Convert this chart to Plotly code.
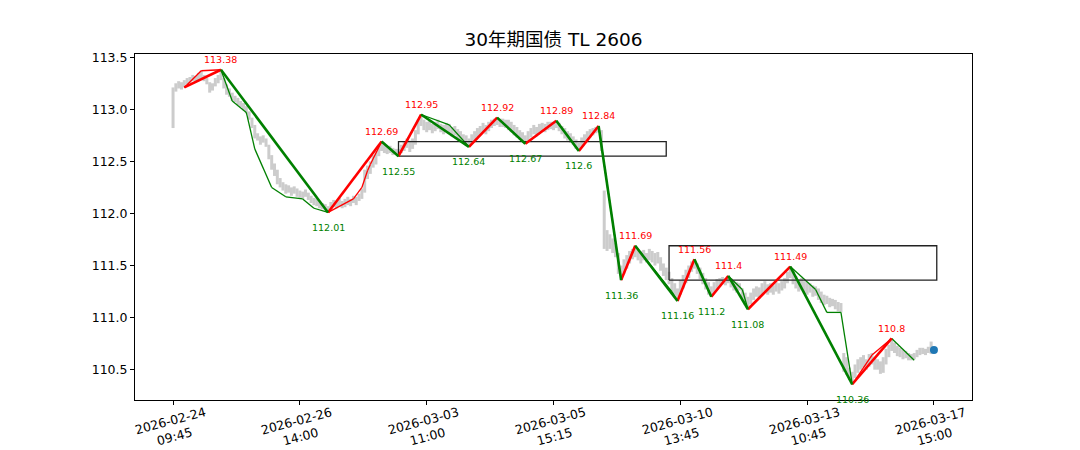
import plotly.graph_objects as go

# ---------------- data ----------------
title_text = "30年期国债 TL 2606"

# gray price bars (15-min), index 0..270
bar_low = [
    112.82, 113.17, 113.20, 113.19, 113.21, 113.24, 113.25, 113.27, 113.26, 113.28, 113.30, 113.27, 113.24, 113.16, 113.18, 113.22, 113.25,
    113.28, 113.20, 113.14, 113.12, 113.08, 113.07, 113.04, 113.02, 112.99, 112.96, 112.90, 112.82, 112.72, 112.70, 112.66, 112.68, 112.64,
    112.52, 112.42, 112.36, 112.28, 112.25, 112.22, 112.19, 112.20, 112.17, 112.19, 112.16, 112.15, 112.14, 112.16, 112.13, 112.10, 112.08,
    112.07, 112.05, 112.04, 112.03, 112.01, 112.04, 112.06, 112.05, 112.07, 112.05, 112.06, 112.08, 112.07, 112.10, 112.08, 112.12, 112.14,
    112.20, 112.33, 112.38, 112.44, 112.47, 112.55, 112.60, 112.58, 112.57, 112.58, 112.56, 112.57, 112.55, 112.58, 112.60, 112.63, 112.59,
    112.62, 112.66, 112.76, 112.84, 112.80, 112.78, 112.80, 112.77, 112.79, 112.81, 112.78, 112.76, 112.79, 112.77, 112.74, 112.75, 112.72,
    112.70, 112.68, 112.66, 112.64, 112.67, 112.70, 112.73, 112.75, 112.78, 112.76, 112.79, 112.82, 112.84, 112.85, 112.83, 112.83, 112.82,
    112.80, 112.78, 112.75, 112.73, 112.71, 112.69, 112.67, 112.70, 112.73, 112.76, 112.74, 112.77, 112.79, 112.78, 112.80, 112.81, 112.80,
    112.82, 112.79, 112.76, 112.72, 112.70, 112.68, 112.66, 112.62, 112.60, 112.64, 112.68, 112.71, 112.73, 112.75, 112.77, 112.78, 112.60,
    111.66, 111.64, 111.66, 111.62, 111.58, 111.42, 111.36, 111.42, 111.47, 111.52, 111.56, 111.58, 111.55, 111.52, 111.55, 111.53, 111.55,
    111.53, 111.50, 111.52, 111.45, 111.40, 111.36, 111.32, 111.25, 111.20, 111.16, 111.22, 111.28, 111.33, 111.38, 111.44, 111.47, 111.42,
    111.37, 111.32, 111.27, 111.22, 111.20, 111.24, 111.27, 111.30, 111.32, 111.31, 111.33, 111.29, 111.26, 111.24, 111.26, 111.18, 111.12,
    111.08, 111.13, 111.17, 111.20, 111.18, 111.22, 111.25, 111.22, 111.24, 111.22, 111.25, 111.23, 111.26, 111.28, 111.33, 111.38, 111.32,
    111.28, 111.25, 111.27, 111.23, 111.22, 111.24, 111.20, 111.21, 111.17, 111.14, 111.12, 111.13, 111.10, 111.11, 111.08, 111.06, 111.05,
    110.48, 110.45, 110.40, 110.36, 110.42, 110.47, 110.50, 110.52, 110.50, 110.53, 110.55, 110.50, 110.50, 110.46, 110.47, 110.55, 110.62,
    110.68, 110.66, 110.63, 110.62, 110.60, 110.61, 110.59, 110.59, 110.60, 110.62, 110.64, 110.65, 110.64, 110.66, 110.65, 110.66,
]
bar_high = [
    113.21, 113.25, 113.27, 113.26, 113.28, 113.30, 113.31, 113.33, 113.32, 113.35, 113.37, 113.33, 113.30, 113.26, 113.25, 113.30, 113.33,
    113.38, 113.30, 113.24, 113.20, 113.16, 113.13, 113.11, 113.08, 113.06, 113.03, 112.98, 112.92, 112.85, 112.77, 112.74, 112.75, 112.72,
    112.66, 112.56, 112.48, 112.42, 112.34, 112.30, 112.28, 112.27, 112.25, 112.26, 112.24, 112.22, 112.21, 112.23, 112.20, 112.17, 112.15,
    112.14, 112.12, 112.10, 112.09, 112.07, 112.11, 112.13, 112.12, 112.15, 112.12, 112.14, 112.16, 112.14, 112.17, 112.16, 112.19, 112.24,
    112.42, 112.46, 112.50, 112.56, 112.60, 112.66, 112.69, 112.66, 112.64, 112.65, 112.63, 112.62, 112.62, 112.66, 112.69, 112.72, 112.70,
    112.72, 112.80, 112.90, 112.95, 112.90, 112.88, 112.89, 112.86, 112.88, 112.90, 112.86, 112.85, 112.87, 112.86, 112.83, 112.84, 112.81,
    112.79, 112.76, 112.75, 112.72, 112.76, 112.79, 112.82, 112.84, 112.87, 112.85, 112.88, 112.90, 112.91, 112.92, 112.91, 112.91, 112.90,
    112.90, 112.88, 112.85, 112.83, 112.80, 112.78, 112.75, 112.79, 112.82, 112.85, 112.83, 112.86, 112.87, 112.86, 112.88, 112.88, 112.88,
    112.89, 112.87, 112.84, 112.82, 112.79, 112.77, 112.74, 112.71, 112.68, 112.73, 112.76, 112.79, 112.81, 112.82, 112.83, 112.84, 112.80,
    112.22, 111.84, 111.80, 111.76, 111.72, 111.62, 111.50, 111.56, 111.60, 111.64, 111.66, 111.69, 111.66, 111.64, 111.65, 111.62, 111.66,
    111.64, 111.62, 111.63, 111.58, 111.52, 111.48, 111.44, 111.38, 111.33, 111.28, 111.36, 111.41, 111.46, 111.50, 111.54, 111.56, 111.52,
    111.48, 111.43, 111.38, 111.34, 111.30, 111.34, 111.37, 111.38, 111.39, 111.38, 111.40, 111.38, 111.35, 111.34, 111.33, 111.28, 111.24,
    111.20, 111.24, 111.28, 111.30, 111.29, 111.33, 111.35, 111.32, 111.33, 111.31, 111.34, 111.33, 111.35, 111.38, 111.44, 111.49, 111.46,
    111.40, 111.37, 111.38, 111.35, 111.34, 111.33, 111.31, 111.30, 111.28, 111.25, 111.22, 111.21, 111.19, 111.18, 111.17, 111.15, 111.14,
    110.66, 110.62, 110.52, 110.48, 110.55, 110.60, 110.62, 110.64, 110.60, 110.65, 110.66, 110.62, 110.60, 110.58, 110.62, 110.70, 110.74,
    110.80, 110.76, 110.73, 110.71, 110.69, 110.68, 110.66, 110.65, 110.66, 110.69, 110.71, 110.71, 110.70, 110.72, 110.77, 110.71,
]

# higher-level strokes (thick)
seg_idx = [4, 17, 55, 74, 80, 88, 105, 115, 125, 136, 144, 151, 159, 164, 179, 185, 191, 197, 204, 219, 241, 255]
seg_val = [113.21, 113.38, 112.01, 112.69, 112.55, 112.95, 112.64, 112.92, 112.67, 112.89, 112.60, 112.84,
           111.36, 111.69, 111.16, 111.56, 111.20, 111.40, 111.08, 111.49, 110.36, 110.80]

# lower-level strokes (thin)
bi_idx = [4, 10, 17, 21, 26, 29, 35, 40, 46, 50, 55, 64, 67, 69, 70, 72, 74, 80, 88, 98, 105, 115, 125, 136, 144, 151,
          159, 164, 177, 179, 185, 191, 197, 202, 204, 219, 228, 232, 237, 241, 248, 255, 263]
bi_val = [113.21, 113.37, 113.38, 113.08, 112.97, 112.62, 112.25, 112.16, 112.14, 112.05, 112.01, 112.14, 112.25, 112.41, 112.47, 112.58, 112.69,
          112.55, 112.95, 112.85, 112.64, 112.92, 112.67, 112.89, 112.60, 112.84,
          111.36, 111.69, 111.25, 111.16, 111.56, 111.20, 111.40, 111.27, 111.08, 111.49, 111.27, 111.05, 111.05, 110.36, 110.64, 110.80, 110.59]

# pivot zones
zone_start = [80, 176]
zone_end = [175, 271]
zone_low = [112.55, 111.36]
zone_high = [112.69, 111.69]

# latest price
last_idx = [270]
last_val = [110.69]

# x tick labels
tick_idx = [0, 45, 90, 135, 180, 225, 270]
tick_date = ["2026-02-24", "2026-02-26", "2026-03-03", "2026-03-05", "2026-03-10", "2026-03-13", "2026-03-17"]
tick_time = ["09:45", "14:00", "11:00", "15:15", "13:45", "10:45", "15:00"]

y_ticks = [110.5, 111.0, 111.5, 112.0, 112.5, 113.0, 113.5]

# ---------------- styles ----------------
RED = "#ff0000"
GREEN = "#008000"
GRAY = "#cccccc"
FONT = "DejaVu Sans, Noto Sans CJK SC, sans-serif"
PEAK_SHIFT = 10
TROUGH_SHIFT = -15

fig = go.Figure()

# gray bars
gx, gy = [], []
for i, (lo, hi) in enumerate(zip(bar_low, bar_high)):
    gx += [i, i, None]
    gy += [lo, hi, None]
fig.add_trace(go.Scatter(x=gx, y=gy, mode="lines", line=dict(color=GRAY, width=3),
                         hoverinfo="skip", showlegend=False))


def split_lines(xs, ys):
    rx, ry, gx_, gy_ = [], [], [], []
    for k in range(len(xs) - 1):
        if ys[k + 1] > ys[k]:
            rx += [xs[k], xs[k + 1], None]
            ry += [ys[k], ys[k + 1], None]
        else:
            gx_ += [xs[k], xs[k + 1], None]
            gy_ += [ys[k], ys[k + 1], None]
    return rx, ry, gx_, gy_


# thin strokes
rx, ry, gx2, gy2 = split_lines(bi_idx, bi_val)
fig.add_trace(go.Scatter(x=rx, y=ry, mode="lines", line=dict(color=RED, width=1.3), showlegend=False, hoverinfo="skip"))
fig.add_trace(go.Scatter(x=gx2, y=gy2, mode="lines", line=dict(color=GREEN, width=1.3), showlegend=False, hoverinfo="skip"))

# zones
for x0, x1, lo, hi in zip(zone_start, zone_end, zone_low, zone_high):
    fig.add_trace(go.Scatter(x=[x0, x1, x1, x0, x0], y=[lo, lo, hi, hi, lo], mode="lines",
                             line=dict(color="#222222", width=1.3), showlegend=False, hoverinfo="skip"))

# thick strokes
rx, ry, gx3, gy3 = split_lines(seg_idx, seg_val)
fig.add_trace(go.Scatter(x=rx, y=ry, mode="lines", line=dict(color=RED, width=2.6), showlegend=False, hoverinfo="skip"))
fig.add_trace(go.Scatter(x=gx3, y=gy3, mode="lines", line=dict(color=GREEN, width=2.6), showlegend=False, hoverinfo="skip"))

# last point
fig.add_trace(go.Scatter(x=last_idx, y=last_val, mode="markers",
                         marker=dict(color="#1f77b4", size=8), showlegend=False, hoverinfo="skip"))

annotations = []
for k in range(1, len(seg_idx)):
    v = seg_val[k]
    is_peak = v > seg_val[k - 1]
    annotations.append(dict(x=seg_idx[k], y=v, xref="x", yref="y", text=f"{v:g}", showarrow=False,
                            yshift=PEAK_SHIFT if is_peak else TROUGH_SHIFT,
                            font=dict(family=FONT, size=9.5, color=RED if is_peak else GREEN),
                            xanchor="center", yanchor="middle"))

for t, d, tm in zip(tick_idx, tick_date, tick_time):
    annotations.append(dict(x=t, y=0, xref="x", yref="paper", text=f"{d}<br>{tm}", showarrow=False,
                            textangle=-15, font=dict(family=FONT, size=12.5, color="black"),
                            xanchor="center", yanchor="middle", yshift=-28, xshift=-1, align="center"))

# the page body adds an 8px offset; margins compensate so the plot area sits at 135..972 x 54..400
fig.update_layout(
    width=1080, height=450,
    margin=dict(l=127, r=116, t=46, b=58),
    paper_bgcolor="white", plot_bgcolor="white",
    title=dict(text=title_text, x=0.5, xref="paper", y=1 - 32 / 450, yref="container",
               xanchor="center", yanchor="middle", font=dict(family=FONT, size=18.5, color="black")),
    annotations=annotations,
    showlegend=False,
)
fig.update_xaxes(range=[-13.5, 283.5], tickvals=tick_idx, ticktext=[""] * len(tick_idx),
                 showline=True, mirror=True, linecolor="black", linewidth=1, ticks="outside",
                 ticklen=4, tickcolor="black", showgrid=False, zeroline=False)
fig.update_yaxes(range=[110.209, 113.531], tickvals=y_ticks, ticktext=[f"{v:.1f}" for v in y_ticks],
                 showline=True, mirror=True, linecolor="black", linewidth=1, ticks="outside",
                 ticklen=4, tickcolor="black", showgrid=False, zeroline=False,
                 tickfont=dict(family=FONT, size=12.5, color="black"))

fig.write_html("out.html")
